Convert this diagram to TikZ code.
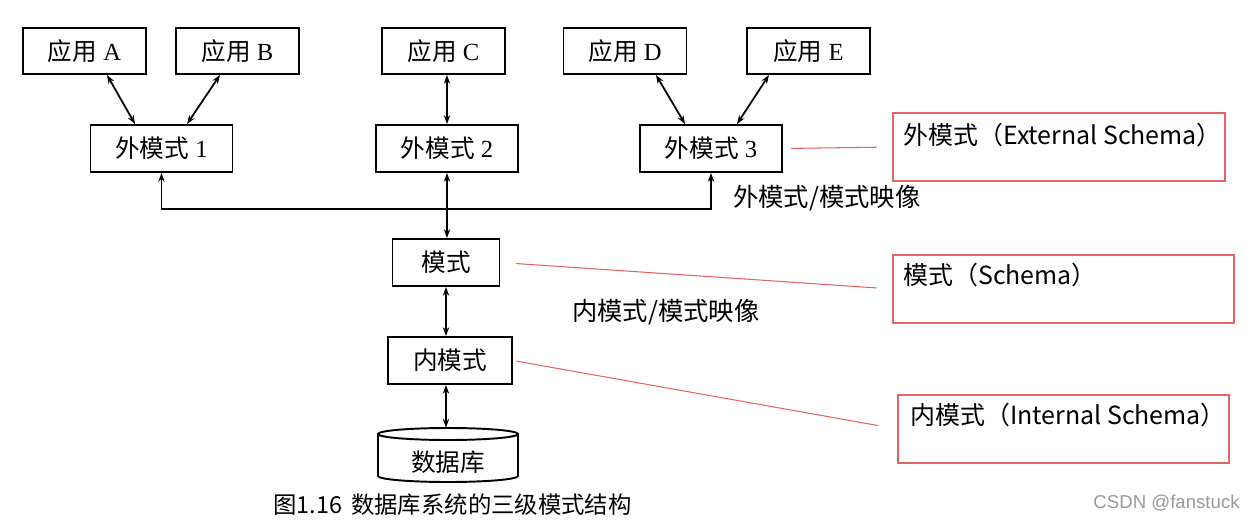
\documentclass[tikz,border=0pt]{standalone}
\usepackage{fontspec}
\setmainfont{Liberation Serif}
\newfontfamily\cjk{Noto Sans CJK SC}
\newfontfamily\wmfont{Liberation Sans}
\newcommand\zhtext[1]{{\cjk #1}}
\usetikzlibrary{arrows.meta,calc}
\definecolor{redline}{RGB}{228,100,100}
\begin{document}
\begin{tikzpicture}[x=0.02cm,y=-0.02cm,
  box/.style={draw, line width=1.1pt, inner sep=0pt, font=\fontsize{14}{16}\selectfont},
  appbox/.style={box, minimum width=2.46cm, minimum height=0.92cm},
  extbox/.style={box, minimum width=2.84cm, minimum height=0.94cm},
  link/.style={line width=1pt, {Stealth[length=5pt,width=3.6pt]}-{Stealth[length=5pt,width=3.6pt]}},
  redbox/.style={draw=redline, line width=0.7pt, inner sep=0pt, minimum height=1.36cm},
  redlink/.style={draw=redline, line width=0.6pt},
  note/.style={font=\cjk\fontsize{14.2}{16}\selectfont, anchor=west, inner sep=0pt},
  maplabel/.style={font=\cjk\fontsize{14.4}{16}\selectfont, anchor=west, inner sep=0pt}]
\useasboundingbox (0,0) rectangle (1256,520);

% application boxes
\node[appbox] (A) at (84.5,51) {\zhtext{应用} A};
\node[appbox] (B) at (237.5,51) {\zhtext{应用} B};
\node[appbox] (C) at (443.5,51) {\zhtext{应用} C};
\node[appbox] (D) at (625,51) {\zhtext{应用} D};
\node[appbox] (E) at (808.5,51) {\zhtext{应用} E};

% external schemas
\node[extbox] (E1) at (161.5,148.5) {\zhtext{外模式} 1};
\node[extbox] (E2) at (447,148.5) {\zhtext{外模式} 2};
\node[extbox] (E3) at (711,148.5) {\zhtext{外模式} 3};

% schema, internal schema
\node[box, minimum width=2.14cm, minimum height=0.94cm] (S) at (446,262.5) {\zhtext{模式}};
\node[box, minimum width=2.48cm, minimum height=0.94cm] (I) at (450,360.5) {\zhtext{内模式}};

% database cylinder
\node[minimum width=2.8cm, minimum height=1.08cm, inner sep=0pt] (db) at (448,455) {};
\draw[line width=1.1pt] (378,434) -- (378,476) arc[start angle=180, end angle=360, x radius=1.4cm, y radius=0.12cm] -- (518,434);
\draw[line width=1.1pt] (448,434) ellipse [x radius=1.4cm, y radius=0.12cm];
\node[font=\fontsize{14}{16}\selectfont] (dbtext) at (448,462) {\zhtext{数据库}};

% arrows apps -> external
\draw[link] ([xshift=0.45cm]A.south) -- ([xshift=-0.53cm]E1.north);
\draw[link] ([xshift=-0.35cm]B.south) -- ([xshift=0.51cm]E1.north);
\draw[link] (E2.north |- C.south) -- (E2.north);
\draw[link] ([xshift=0.62cm]D.south) -- ([xshift=-0.52cm]E3.north);
\draw[link] ([xshift=-0.79cm]E.south) -- ([xshift=0.52cm]E3.north);

% bus
\coordinate (busy) at (0,209);
\draw[link] (E1.south) -- (E1.south |- busy) -| (E3.south);
\draw[link] (E2.south) -- (E2.south |- S.north);
\draw[link] (S.south) -- (S.south |- I.north);
\draw[link] (S.south |- I.south) -- (S.south |- db.north);

% mapping labels
\node[maplabel] (m1) at (733,198) {外模式/模式映像};
\node[maplabel] (m2) at (572,312) {内模式/模式映像};

% red annotation boxes
\node[redbox, minimum width=6.64cm] (RE) at (1059,147) {};
\node[redbox, minimum width=6.82cm] (RS) at (1063.5,289) {};
\node[redbox, minimum width=6.62cm] (RI) at (1063.5,429) {};
\node[note] (tE) at (903,135) {外模式（External Schema）};
\node[note] (tS) at (903,275) {模式（Schema）};
\node[note] (tI) at (910,415) {内模式（Internal Schema）};

\draw[redlink, shorten <=4.5pt, shorten >=9pt] (E3.east) -- (RE.west);
\draw[redlink, shorten <=9pt, shorten >=9pt] (S.east) -- (RS.west);
\draw[redlink, shorten <=2pt, shorten >=11pt] (I.east) -- (RI.west);

% caption and watermark
\node[font=\cjk\fontsize{13.3}{16}\selectfont, anchor=west, inner sep=0pt] (cap) at (273,505) {图1.16\, 数据库系统的三级模式结构};
\node[font=\wmfont\fontsize{10.6}{12}\selectfont, text=black!40, anchor=east, inner sep=0pt] (wm) at (1240,503) {CSDN @fanstuck};
\end{tikzpicture}
\end{document}
